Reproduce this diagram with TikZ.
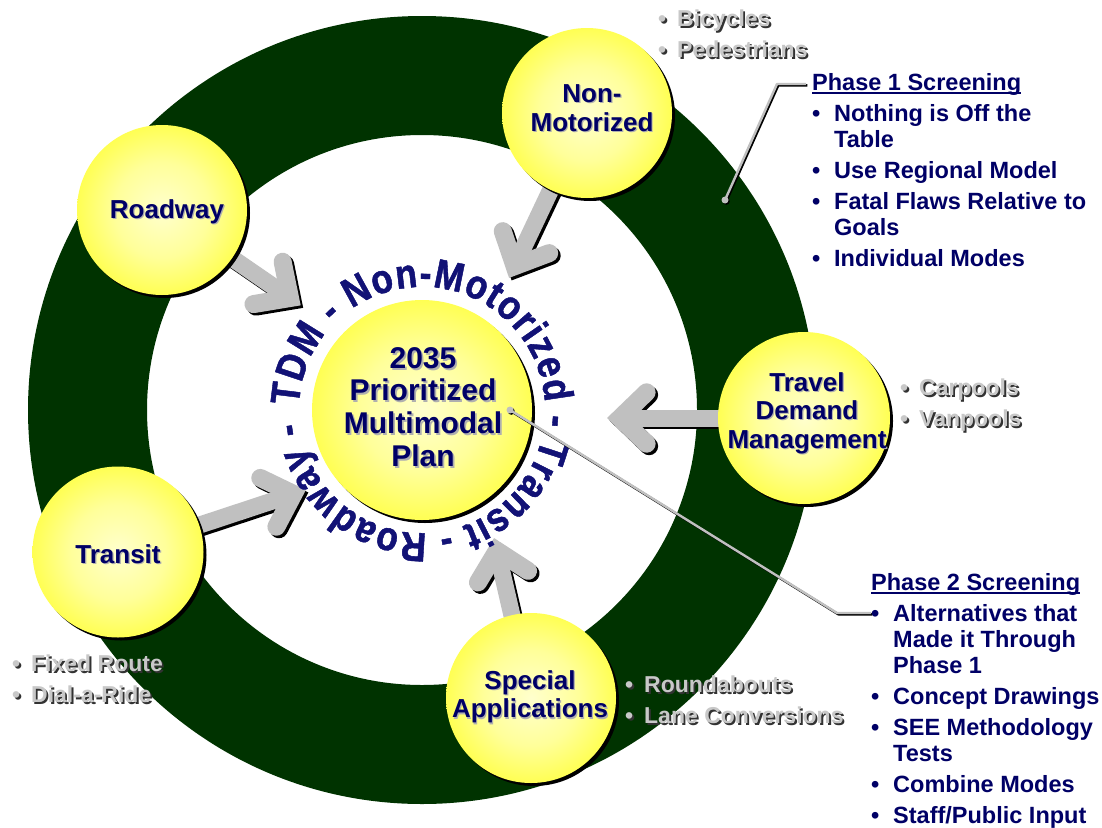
\documentclass[tikz,border=0pt]{standalone}
\usepackage{fontspec}
\setmainfont{Liberation Sans}
\newfontfamily\ringfam[FakeStretch=0.86,FakeBold=0.8]{Liberation Sans Bold}
\usetikzlibrary{calc,decorations.text}

\definecolor{ringgreen}{RGB}{0,51,0}
\definecolor{navy}{RGB}{0,0,102}
\definecolor{ringblue}{RGB}{18,18,118}
\definecolor{ringshade}{RGB}{130,130,185}
\definecolor{silver}{RGB}{200,200,200}
\definecolor{silvershadow}{RGB}{50,50,50}
\definecolor{arrowgray}{RGB}{192,192,192}
\definecolor{ballcore}{RGB}{255,255,205}
\definecolor{ballrim}{RGB}{255,255,0}
\definecolor{lblshadow}{RGB}{175,175,175}

% yellow ball: pale centre, bright rim
\pgfdeclareradialshading{ball}{\pgfpoint{0bp}{0bp}}{%
  color(0bp)=(ballcore); color(14bp)=(ballcore!75!ballrim);
  color(38bp)=(ballrim); color(50bp)=(ballrim)}

% silver text with a dark drop shadow
\newcommand\silvertext[1]{\rlap{\kern1.8pt\raisebox{-1.8pt}{\color{silvershadow}#1}}{\color{silver}#1}}
\newcommand\gitem[1]{\silvertext{\makebox[19pt][l]{•}#1}}
% thick underline for the phase headings
\newcommand\ulined[1]{\setbox0\hbox{#1}\rlap{\rule[-4pt]{\wd0}{1.8pt}}\box0}
\newcommand\ringfont{\ringfam\fontsize{41}{41}\selectfont}
% bullet and hanging indent of the phase lists
\newcommand\pbul{\makebox[22pt][l]{•}}
\newcommand\pind{\hspace*{22pt}}

% grey block arrow with black shadow: #1 source, #2 head vertex
\newcommand\blockarrow[2]{%
  \foreach \ac/\dx in {black/2.5, arrowgray/0}{%
    \begin{scope}[transform canvas={xshift=\dx pt, yshift=-\dx pt}]
      \draw[line width=17pt, \ac] (#1) -- (#2);
      \draw[line width=18pt, \ac, line cap=round, line join=miter]
        ($(#2)!37pt!44:(#1)$) -- (#2) -- ($(#2)!37pt!-44:(#1)$);
    \end{scope}}}

\begin{document}
\begin{tikzpicture}[x=1pt,y=-1pt,
  ball/.style={circle, minimum size=170pt, inner sep=0pt, shade, shading=ball,
    preaction={fill=black, transform canvas={xshift=3pt, yshift=-3pt}}},
  lbl/.style={font=\bfseries\fontsize{26}{28.5}\selectfont, text=navy, align=center, inner sep=0pt},
  lblsh/.style={lbl, text=lblshadow, xshift=1.2pt, yshift=-1.2pt},
  ctrlbl/.style={lbl, font=\bfseries\fontsize{30}{32.7}\selectfont},
  ctrsh/.style={ctrlbl, text=lblshadow, xshift=1.8pt, yshift=-1.8pt},
  glist/.style={font=\bfseries\fontsize{23}{30.5}\selectfont, align=left, inner sep=0pt, anchor=north west},
  plist/.style={font=\bfseries\fontsize{23.5}{26}\selectfont, text=navy, align=left, inner sep=0pt, anchor=north west},
  leader/.style={line width=2.4pt, arrowgray, line join=round},
  leadersh/.style={line width=2.4pt, black, line join=round, transform canvas={xshift=1.3pt, yshift=-1.3pt}}]

\useasboundingbox (0,0) rectangle (1102,827);
\fill[white] (0,0) rectangle (1102,827);

% centres
\coordinate (O) at (422,410);
\coordinate (rdC) at (162,210);
\coordinate (nmC) at (587,113);
\coordinate (tdmC) at (804,418);
\coordinate (trC) at (118,552);
\coordinate (saC) at (531,698);

% green ring
\fill[ringgreen, even odd rule] (O) circle[radius=394] (O) circle[radius=275];

% arrow heads (vertex of each chevron)
\coordinate (rdTip) at (290,298);
\coordinate (nmTip) at (514.6,266.2);
\coordinate (tdmTip) at (620,418);
\coordinate (trTip) at (293.6,494);
\coordinate (saTip) at (497,550.7);

\blockarrow{rdC}{rdTip}
\blockarrow{nmC}{nmTip}
\blockarrow{tdmC}{tdmTip}
\blockarrow{trC}{trTip}
\blockarrow{saC}{saTip}

% yellow balls
\node[ball] (rd) at (rdC) {};
\node[ball] (nm) at (nmC) {};
\node[ball, minimum size=172pt] (tdm) at (tdmC) {};
\node[ball, minimum size=171pt] (tr) at (trC) {};
\node[ball] (sa) at (saC) {};
\node[ball, minimum size=220pt] (ctr) at (O) {};

% lettering around the centre ball
\begin{scope}[shift={(O)}, y=1pt]
  \path[decorate, transform canvas={xshift=1.6pt, yshift=-1.6pt},
    decoration={text along path, text align=fit to path,
      text={|\color{ringshade}\ringfont|TDM - Non-Motorized - Transit - Roadway -}}]
    (178:123) arc[start angle=178, end angle=-174, radius=123];
  \path[decorate,
    decoration={text along path, text align=fit to path,
      text={|\color{ringblue}\ringfont|TDM - Non-Motorized - Transit - Roadway -}}]
    (178:123) arc[start angle=178, end angle=-174, radius=123];
\end{scope}

% leader lines
\coordinate (p1a) at (725,200);
\coordinate (p1b) at (777,84);
\coordinate (p1c) at (806,84);
\coordinate (p2a) at (510,410);
\coordinate (p2b) at (837,613);
\coordinate (p2c) at (871,613);
\draw[leadersh] (p1a) -- (p1b) -- (p1c);
\draw[leadersh] (p2a) -- (p2b) -- (p2c);
\fill[black, transform canvas={xshift=1.3pt, yshift=-1.3pt}] (p1a) circle[radius=3.5] (p2a) circle[radius=3.5];
\draw[leader] (p1a) -- (p1b) -- (p1c);
\draw[leader] (p2a) -- (p2b) -- (p2c);
\fill[arrowgray] (p1a) circle[radius=3.5] (p2a) circle[radius=3.5];

% ball labels
\node[lblsh] (rdLs) at (167,212) {Roadway};
\node[lbl] (rdL) at (167,212) {Roadway};
\node[lblsh] (nmLs) at (592,108) {Non-\\Motorized};
\node[lbl] (nmL) at (592,108) {Non-\\Motorized};
\node[lblsh] (tdmLs) at (807,413) {Travel\\Demand\\Management};
\node[lbl] (tdmL) at (807,413) {Travel\\Demand\\Management};
\node[lblsh] (trLs) at (118,554) {Transit};
\node[lbl] (trL) at (118,554) {Transit};
\node[lblsh] (saLs) at (530,697) {Special\\Applications};
\node[lbl] (saL) at (530,697) {Special\\Applications};
\node[ctrsh] (ctrLs) at (423,407) {2035\\Prioritized\\Multimodal\\Plan};
\node[ctrlbl] (ctrL) at (423,407) {2035\\Prioritized\\Multimodal\\Plan};

% silver sub-lists
\node[glist] (nmList) at (658,10) {\gitem{Bicycles}\\\gitem{Pedestrians}};
\node[glist] (tdmList) at (900,379) {\gitem{Carpools}\\\gitem{Vanpools}};
\node[glist] (trList) at (12,655) {\gitem{Fixed Route}\\\gitem{Dial-a-Ride}};
\node[glist] (saList) at (625,676) {\gitem{Roundabouts}\\\gitem{Lane Conversions}};

% screening phases
\node[plist] (phase1) at (812,73) {\ulined{Phase 1 Screening}\\[5pt]
  \pbul Nothing is Off the\\
  \pind Table\\[5pt]
  \pbul Use Regional Model\\[5pt]
  \pbul Fatal Flaws Relative to\\
  \pind Goals\\[5pt]
  \pbul Individual Modes};
\node[plist] (phase2) at (871,573) {\ulined{Phase 2 Screening}\\[5pt]
  \pbul Alternatives that\\
  \pind Made it Through\\
  \pind Phase 1\\[5pt]
  \pbul Concept Drawings\\[5pt]
  \pbul SEE Methodology\\
  \pind Tests\\[5pt]
  \pbul Combine Modes\\[5pt]
  \pbul Staff/Public Input};
\end{tikzpicture}
\end{document}
